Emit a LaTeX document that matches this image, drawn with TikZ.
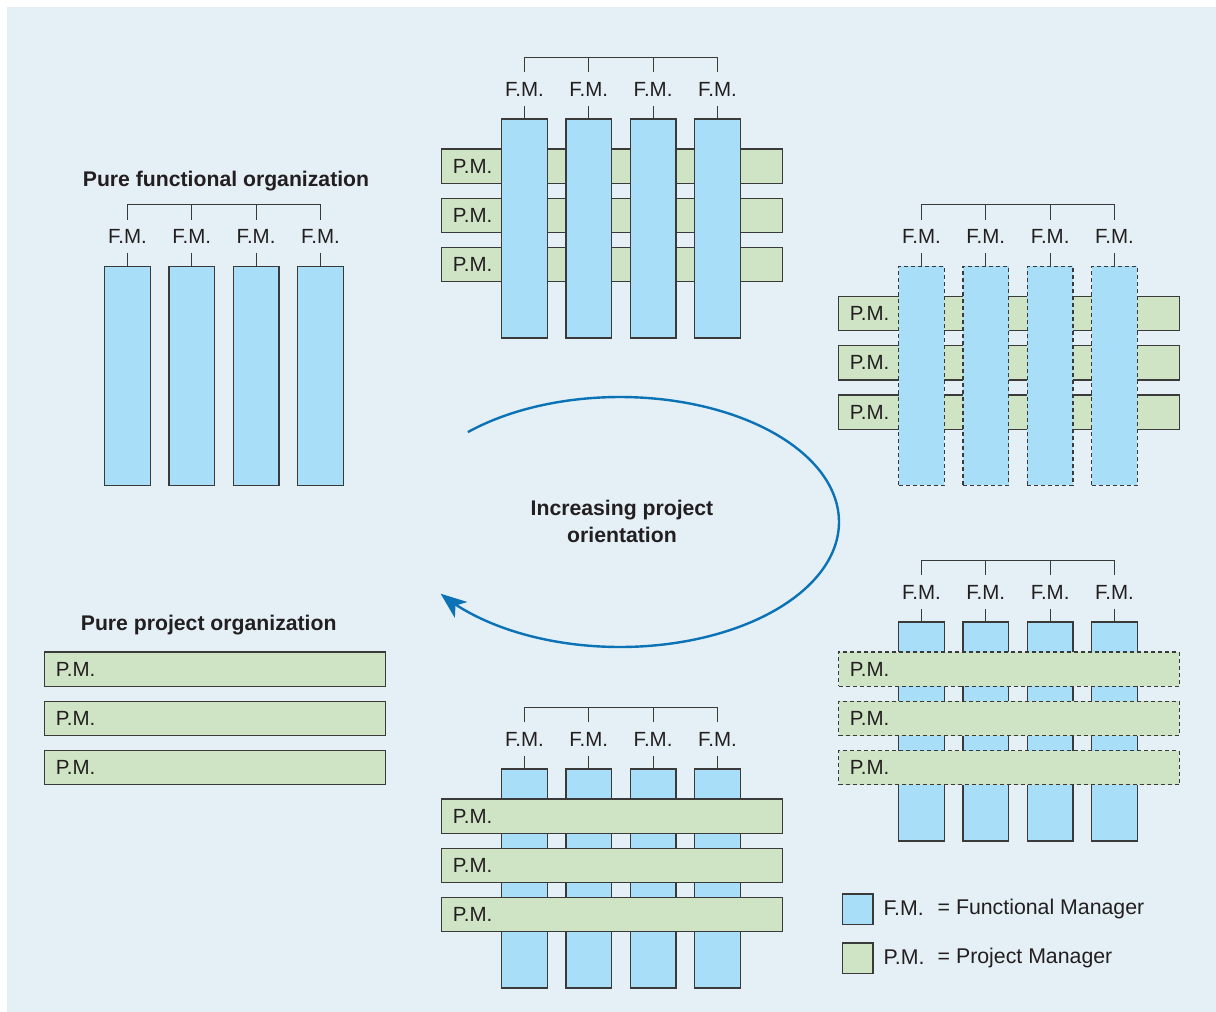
\documentclass[tikz,border=0pt]{standalone}
\usepackage{fontspec}
\setmainfont{Liberation Sans}
\usetikzlibrary{arrows.meta}
\definecolor{bgc}{HTML}{E4EFF6}
\definecolor{fmblue}{HTML}{A9DEF9}
\definecolor{pmgreen}{HTML}{CFE4C4}
\definecolor{edgec}{HTML}{3A3A3A}
\definecolor{txtc}{HTML}{231F20}
\definecolor{arrc}{HTML}{0B72B5}
\tikzset{
  fmcol/.style={draw=edgec, fill=fmblue, line width=1.2pt, inner sep=0pt, minimum width=45.7pt, minimum height=219pt, anchor=north},
  fmcoldash/.style={fmcol, dash pattern=on 4pt off 3pt},
  pmbar/.style={draw=edgec, fill=pmgreen, line width=1.2pt, inner sep=0pt, minimum width=340.7pt, minimum height=34.3pt, anchor=north west},
  pmbardash/.style={pmbar, dash pattern=on 4pt off 3pt},
  fmlabel/.style={text=txtc, font=\fontsize{20.5pt}{23pt}\selectfont, inner sep=0pt, text height=14pt, text depth=0pt, minimum height=33pt},
  pmlabel/.style={text=txtc, font=\fontsize{20.5pt}{23pt}\selectfont, inner sep=0pt, anchor=west},
  legtext/.style={text=txtc, font=\fontsize{21.3pt}{24pt}\selectfont, inner sep=0pt, anchor=west},
  tick/.style={draw=edgec, line width=1.2pt},
  titletext/.style={text=txtc, font=\bfseries\fontsize{21.2pt}{27pt}\selectfont, inner sep=0pt, align=center},
  legendbox/.style={draw=edgec, line width=1.3pt, inner sep=0pt, minimum width=30.6pt, minimum height=30.4pt, anchor=north west},
}
% #1 prefix, #2 column style
\newcommand{\fmgroup}[2]{%
  \coordinate (#1b) at (524.5,57.3);
  \foreach \i/\cx in {1/524.5,2/588.8,3/653.1,4/717.4}{
    \node[fmlabel] (#1l\i) at (\cx,89) {F.M.};
    \node[#2] (#1c\i) at (\cx,118.3) {};
    \draw[tick] (#1l\i.south) -- (#1c\i.north);
    \draw[tick] (#1l\i.north) -- (#1l\i.north |- #1b);
  }
  \draw[tick, line cap=rect] (#1l1.north |- #1b) -- (#1l4.north |- #1b);
}
% #1 prefix, #2 bar style
\newcommand{\pmgroup}[2]{%
  \foreach \j/\yy in {1/148.3,2/197.6,3/246.9}{
    \node[#2] (#1p\j) at (441,\yy) {};
    \node[pmlabel] (#1t\j) at ([xshift=11.7pt]#1p\j.west) {P.M.};
  }
}
\begin{document}
\begin{tikzpicture}[x=1pt,y=-1pt]
\useasboundingbox (0,0) rectangle (1216,1012);
\fill[bgc] (7,7) rectangle (1216,1012);

% top: weak matrix
\begin{scope}
  \pmgroup{A}{pmbar}
  \fmgroup{A}{fmcol}
\end{scope}

% left: pure functional
\begin{scope}[shift={(-397,147.5)}]
  \fmgroup{F}{fmcol}
\end{scope}
\node[titletext] (ftitle) at (226,181.5) {Pure functional organization};

% right top: balanced (dashed FM)
\begin{scope}[shift={(397,147.5)}]
  \pmgroup{B}{pmbar}
  \fmgroup{B}{fmcoldash}
\end{scope}

% right bottom: dashed PM
\begin{scope}[shift={(397,503)}]
  \fmgroup{C}{fmcol}
  \pmgroup{C}{pmbardash}
\end{scope}

% bottom: strong matrix
\begin{scope}[shift={(0,650)}]
  \fmgroup{D}{fmcol}
  \pmgroup{D}{pmbar}
\end{scope}

% left bottom: pure project
\begin{scope}[shift={(-397,503)}]
  \pmgroup{P}{pmbar}
\end{scope}
\node[titletext] (ptitle) at (208.7,625.5) {Pure project organization};

% cycle arrow
\node[titletext] (ctext) at (622,521.5) {Increasing project\\orientation};
\draw[arrc, line width=2.4pt, {Stealth[length=26pt,width=20pt,inset=7pt]}-]
  plot[domain=-145:134, samples=120, smooth] ({620+219*cos(\x)}, {522-125*sin(\x)});

% legend
\node[legendbox, fill=fmblue] (lg1) at (841.7,893.3) {};
\node[legendbox, fill=pmgreen] (lg2) at (841.7,942.3) {};
\node[legtext] (lg1a) at (883.3,908.5) {F.M.};
\node[legtext] (lg1b) at (937.5,908.5) {= Functional Manager};
\node[legtext] (lg2a) at (883.3,957.5) {P.M.};
\node[legtext] (lg2b) at (937.5,957.5) {= Project Manager};
\end{tikzpicture}
\end{document}
